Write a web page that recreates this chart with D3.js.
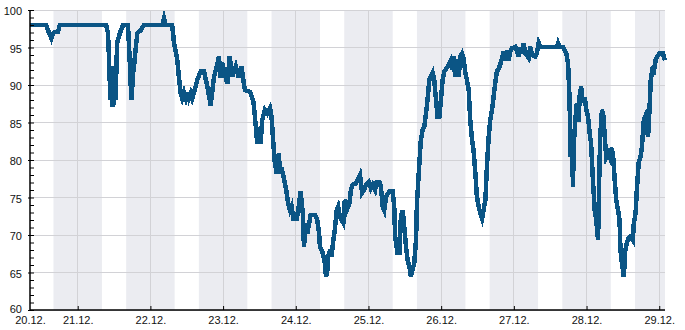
<!DOCTYPE html>
<html>
<head>
<meta charset="utf-8">
<script src="https://cdn.jsdelivr.net/npm/d3@7"></script>
<style>
  html, body { margin: 0; padding: 0; background: #fff; }
  svg { display: block; font-family: "DejaVu Sans", sans-serif; }
  .tick text { font-size: 11px; fill: #111; }
</style>
</head>
<body>
<svg id="chart" width="685" height="330"></svg>
<script>
// ---- data: hours since 20.12. 00:00 and the measured value ----
const hours = [
  8.3, 13.6, 14.4, 15.3, 15.9, 16.4, 17.5, 18.1, 33.4, 34.0, 34.3, 34.8, 35.1, 35.4, 35.9, 36.2,
  36.5, 37.0, 37.9, 39.0, 40.6, 41.2, 41.7, 42.4, 42.6, 43.1, 43.7, 44.8, 45.9, 51.9, 52.5, 53.1,
  55.2, 55.8, 56.9, 57.4, 58.0, 58.5, 59.1, 59.7, 60.2, 60.7, 61.3, 61.8, 62.4, 63.5, 64.6, 65.7,
  66.8, 67.9, 69.0, 70.1, 70.6, 71.2, 71.7, 72.5, 73.4, 74.2, 75.0, 76.2, 77.2, 78.0, 78.7, 79.2,
  80.9, 82.0, 82.5, 83.3, 83.9, 84.4, 84.9, 85.8, 86.6, 87.5, 88.0, 88.6, 89.1, 89.7, 90.4, 90.8,
  91.3, 92.4, 93.0, 93.5, 94.1, 94.6, 95.2, 96.3, 96.8, 97.6, 98.3, 98.7, 99.3, 99.8, 100.4, 100.9,
  102.3, 103.1, 103.7, 104.0, 104.9, 105.6, 106.0, 106.4, 106.7, 107.3, 107.8, 108.4, 108.9, 109.5,
  110.0, 110.6, 111.7, 112.2, 112.8, 113.7, 114.2, 114.8, 115.9, 116.4, 117.2, 117.9, 118.6, 119.2,
  120.1, 120.8, 121.4, 122.2, 122.7, 123.6, 124.1, 124.7, 125.2, 125.8, 126.9, 128.0, 128.5, 128.8,
  129.6, 130.2, 130.7, 131.3, 131.8, 132.4, 132.9, 133.5, 134.0, 134.6, 135.1, 135.7, 136.0, 136.6,
  137.0, 137.3, 137.9, 138.4, 139.0, 139.5, 140.1, 140.6, 141.2, 141.7, 142.3, 142.8, 143.4, 143.9,
  144.5, 145.0, 146.1, 147.2, 147.8, 148.1, 148.6, 149.2, 149.8, 150.3, 150.9, 151.4, 152.0, 152.5,
  153.1, 153.6, 154.2, 154.7, 155.3, 155.8, 156.4, 156.9, 157.5, 158.0, 158.6, 159.1, 159.7, 160.2,
  160.8, 161.3, 161.9, 162.4, 163.0, 163.5, 164.1, 164.6, 165.2, 165.7, 166.3, 166.8, 167.4, 168.5,
  169.6, 170.1, 170.7, 171.2, 171.8, 172.9, 173.4, 174.0, 175.1, 175.6, 176.2, 176.7, 182.2, 182.6,
  183.1, 184.2, 185.3, 185.9, 186.4, 186.7, 187.2, 187.5, 187.8, 188.3, 188.8, 189.4, 189.7, 190.2,
  190.8, 191.4, 191.9, 192.5, 193.0, 193.5, 194.1, 194.7, 195.2, 195.8, 196.1, 196.5, 197.1, 197.6,
  198.0, 198.5, 199.1, 199.6, 200.1, 200.7, 201.3, 201.8, 202.4, 202.9, 203.2, 203.7, 204.3, 204.8,
  205.3, 205.9, 206.5, 207.3, 207.6, 208.2, 208.6, 209.2, 209.8, 210.3, 210.6, 210.9, 211.4, 211.9,
  212.3, 212.8, 213.2, 213.7, 214.2, 214.8, 215.3, 216.1, 217.2, 217.9
];
const values = [
  98, 98, 97.1, 96.2, 96.9, 97.1, 97.1, 98, 98, 96.9, 94, 88, 91.6, 87.1, 87.6, 92.5,
  88, 95.6, 96.9, 98, 98, 93, 88, 92, 92.5, 94.7, 96.9, 97.3, 98, 98, 98.9, 98,
  98, 95.6, 93.3, 91.1, 88.9, 88.2, 89, 88.2, 89, 88.2, 88.9, 88.2, 89, 90.7, 91.8, 91.8,
  89.8, 87.3, 91.1, 92.7, 93.8, 91, 93, 91.5, 90.2, 93.8, 91.1, 92.5, 91, 92.5, 90.7, 89.3,
  89.1, 87.8, 85.8, 82.2, 84.4, 82.2, 85.3, 86.7, 86.2, 86.9, 85.8, 82.2, 79.6, 78.2, 80.9, 78.2,
  79, 76.9, 75.6, 74.2, 73.3, 73.8, 72.2, 72.2, 73.3, 75.8, 73, 68.4, 71.6, 70.2, 71.5, 72.7,
  72.7, 72, 70.2, 68.4, 67.6, 66.2, 64.4, 65.3, 67.1, 68, 67.1, 69.3, 70.7, 73.3,
  73.8, 72.4, 71.6, 74.7, 73.3, 74.2, 76, 76.7, 76.9, 77.3, 78, 75.6, 76, 76.7,
  77.1, 76.2, 76.7, 76, 77.1, 77.1, 76.4, 73.8, 73.3, 75.1, 75.8, 75.8, 73.8, 69.8,
  67.6, 67.6, 72.4, 73.3, 71.1, 68.4, 66.7, 65.8, 64.4, 65.5, 66.2, 69.3, 74.2, 78.2,
  80.9, 82.7, 84, 84.4, 86.2, 88, 90.7, 91.1, 91.6, 90.7, 88, 85.8, 85.8, 88,
  90.7, 91.8, 92.4, 93.3, 92, 93.8, 91.1, 93.5, 91.1, 93.8, 94.2, 93.6, 91.6, 90.7,
  89.3, 85.3, 82.7, 81.3, 78.2, 75.1, 73.8, 72.9, 72.2, 73.3, 74.7, 79.1, 83.1, 85.3,
  86.7, 88.4, 90.4, 91.8, 92.2, 92.7, 93.6, 94.4, 93.3, 94.6, 93.3, 94.4, 94.9, 95.1,
  93.8, 95, 94.2, 95.6, 94.2, 93.6, 95.1, 94, 93.8, 94.2, 95.6, 95.1, 95.1, 95.6,
  95.1, 95.1, 94.2, 92.9, 88, 80.4, 83.6, 76.4, 82.2, 85.3, 87.6, 85.1, 88.4, 89.8,
  87.6, 88.4, 86.7, 85.8, 83.6, 82.2, 77.3, 73.3, 72, 69.3, 76, 83.1, 86.7, 85.8,
  83.1, 80.4, 80.9, 80.4, 81.6, 80.9, 77.3, 74.7, 73.3, 72, 68, 66.2, 64.4, 68,
  68.9, 69.6, 69.8, 69.3, 71.6, 72.9, 76, 79.6, 80.4, 81.8, 83.6, 85.3, 85.8, 84.4,
  83.1, 86.9, 90.7, 92, 91.8, 93.3, 93.8, 94.2, 94.2, 93.3
];
const dayLabels = ['20.12.', '21.12.', '22.12.', '23.12.', '24.12.', '25.12.', '26.12.', '27.12.', '28.12.', '29.12.'];
const yTicks = [60, 65, 70, 75, 80, 85, 90, 95, 100];
const domainHours = [8.25, 217.9];
const nightStart = 16, nightEnd = 32; // 16:00 -> 08:00 next day

(function () {
  const W = 685, H = 330, M = { top: 10, right: 20, bottom: 20, left: 30 };
  const svg = d3.select('#chart');

  const t0 = new Date(2023, 11, 20, 0, 0);
  const at = h => new Date(t0.getTime() + h * 3600e3);
  const data = hours.map((h, i) => ({ t: at(h), v: values[i] }));

  const x = d3.scaleTime().domain(domainHours.map(at)).range([M.left, W - M.right]);
  const y = d3.scaleLinear().domain([60, 100]).range([H - M.bottom, M.top]);

  // night bands
  const bands = d3.range(0, 9).map(k => [at(nightStart + 24 * k), at(nightEnd + 24 * k)]);
  svg.append('g').selectAll('rect').data(bands).join('rect')
    .attr('x', d => Math.max(x(d[0]), M.left))
    .attr('width', d => Math.max(0, Math.min(x(d[1]), W - M.right) - Math.max(x(d[0]), M.left)))
    .attr('y', M.top).attr('height', H - M.bottom - M.top)
    .attr('fill', '#ebecf1');

  // gridlines
  const dayTicks = d3.range(1, 10).map(k => at(24 * k));
  svg.append('g').selectAll('line').data(dayTicks).join('line')
    .attr('x1', d => x(d)).attr('x2', d => x(d))
    .attr('y1', M.top).attr('y2', H - M.bottom)
    .attr('stroke', '#d2d2d6').attr('stroke-width', 1).attr('shape-rendering', 'crispEdges');
  svg.append('g').selectAll('line').data(yTicks).join('line')
    .attr('x1', M.left).attr('x2', W - M.right)
    .attr('y1', d => y(d)).attr('y2', d => y(d))
    .attr('stroke', '#d2d2d6').attr('stroke-width', 1).attr('shape-rendering', 'crispEdges');

  // series
  const line = d3.line().x(d => x(d.t)).y(d => y(d.v));
  svg.append('path').datum(data)
    .attr('fill', 'none').attr('stroke', '#0b5585').attr('stroke-width', 4.5)
    .attr('stroke-linejoin', 'miter').attr('shape-rendering', 'crispEdges')
    .attr('d', line);

  // y axis: minor ticks every unit, inward
  const yAxis = svg.append('g').attr('transform', `translate(${M.left},0)`);
  yAxis.call(d3.axisRight(y).tickValues(d3.range(60, 101, 1)).tickSize(4).tickFormat(''))
    .select('.domain').remove();
  yAxis.call(g => g.selectAll('.tick line').attr('stroke', '#000'));
  const yLab = svg.append('g').attr('transform', `translate(${M.left},0)`)
    .call(d3.axisLeft(y).tickValues(yTicks).tickSize(2).tickPadding(6).tickFormat(d3.format('d')));
  yLab.select('.domain').remove();
  yLab.selectAll('.tick line').attr('stroke', '#000');
  yLab.selectAll('.tick text').attr('dy', (d) => d === 60 ? '0.2em' : '0.45em');

  // x axis: day ticks inward, first label at domain start
  const xTickVals = [x.domain()[0], ...dayTicks];
  const xAxis = svg.append('g').attr('transform', `translate(0,${H - M.bottom})`)
    .call(d3.axisTop(x).tickValues(dayTicks).tickSize(4).tickFormat(''));
  xAxis.select('.domain').remove();
  xAxis.selectAll('.tick line').attr('stroke', '#000');
  const xLab = svg.append('g').attr('transform', `translate(0,${H - M.bottom})`)
    .call(d3.axisBottom(x).tickValues(xTickVals).tickSize(0).tickPadding(6)
      .tickFormat((d, i) => dayLabels[i]));
  xLab.select('.domain').remove();

  // axis lines
  svg.append('line').attr('x1', M.left).attr('x2', M.left).attr('y1', M.top).attr('y2', H - M.bottom + 1)
    .attr('stroke', '#000').attr('stroke-width', 1.5);
  svg.append('line').attr('x1', M.left).attr('x2', W - M.right).attr('y1', H - M.bottom).attr('y2', H - M.bottom)
    .attr('stroke', '#000').attr('stroke-width', 1.5);
})();
</script>
</body>
</html>
